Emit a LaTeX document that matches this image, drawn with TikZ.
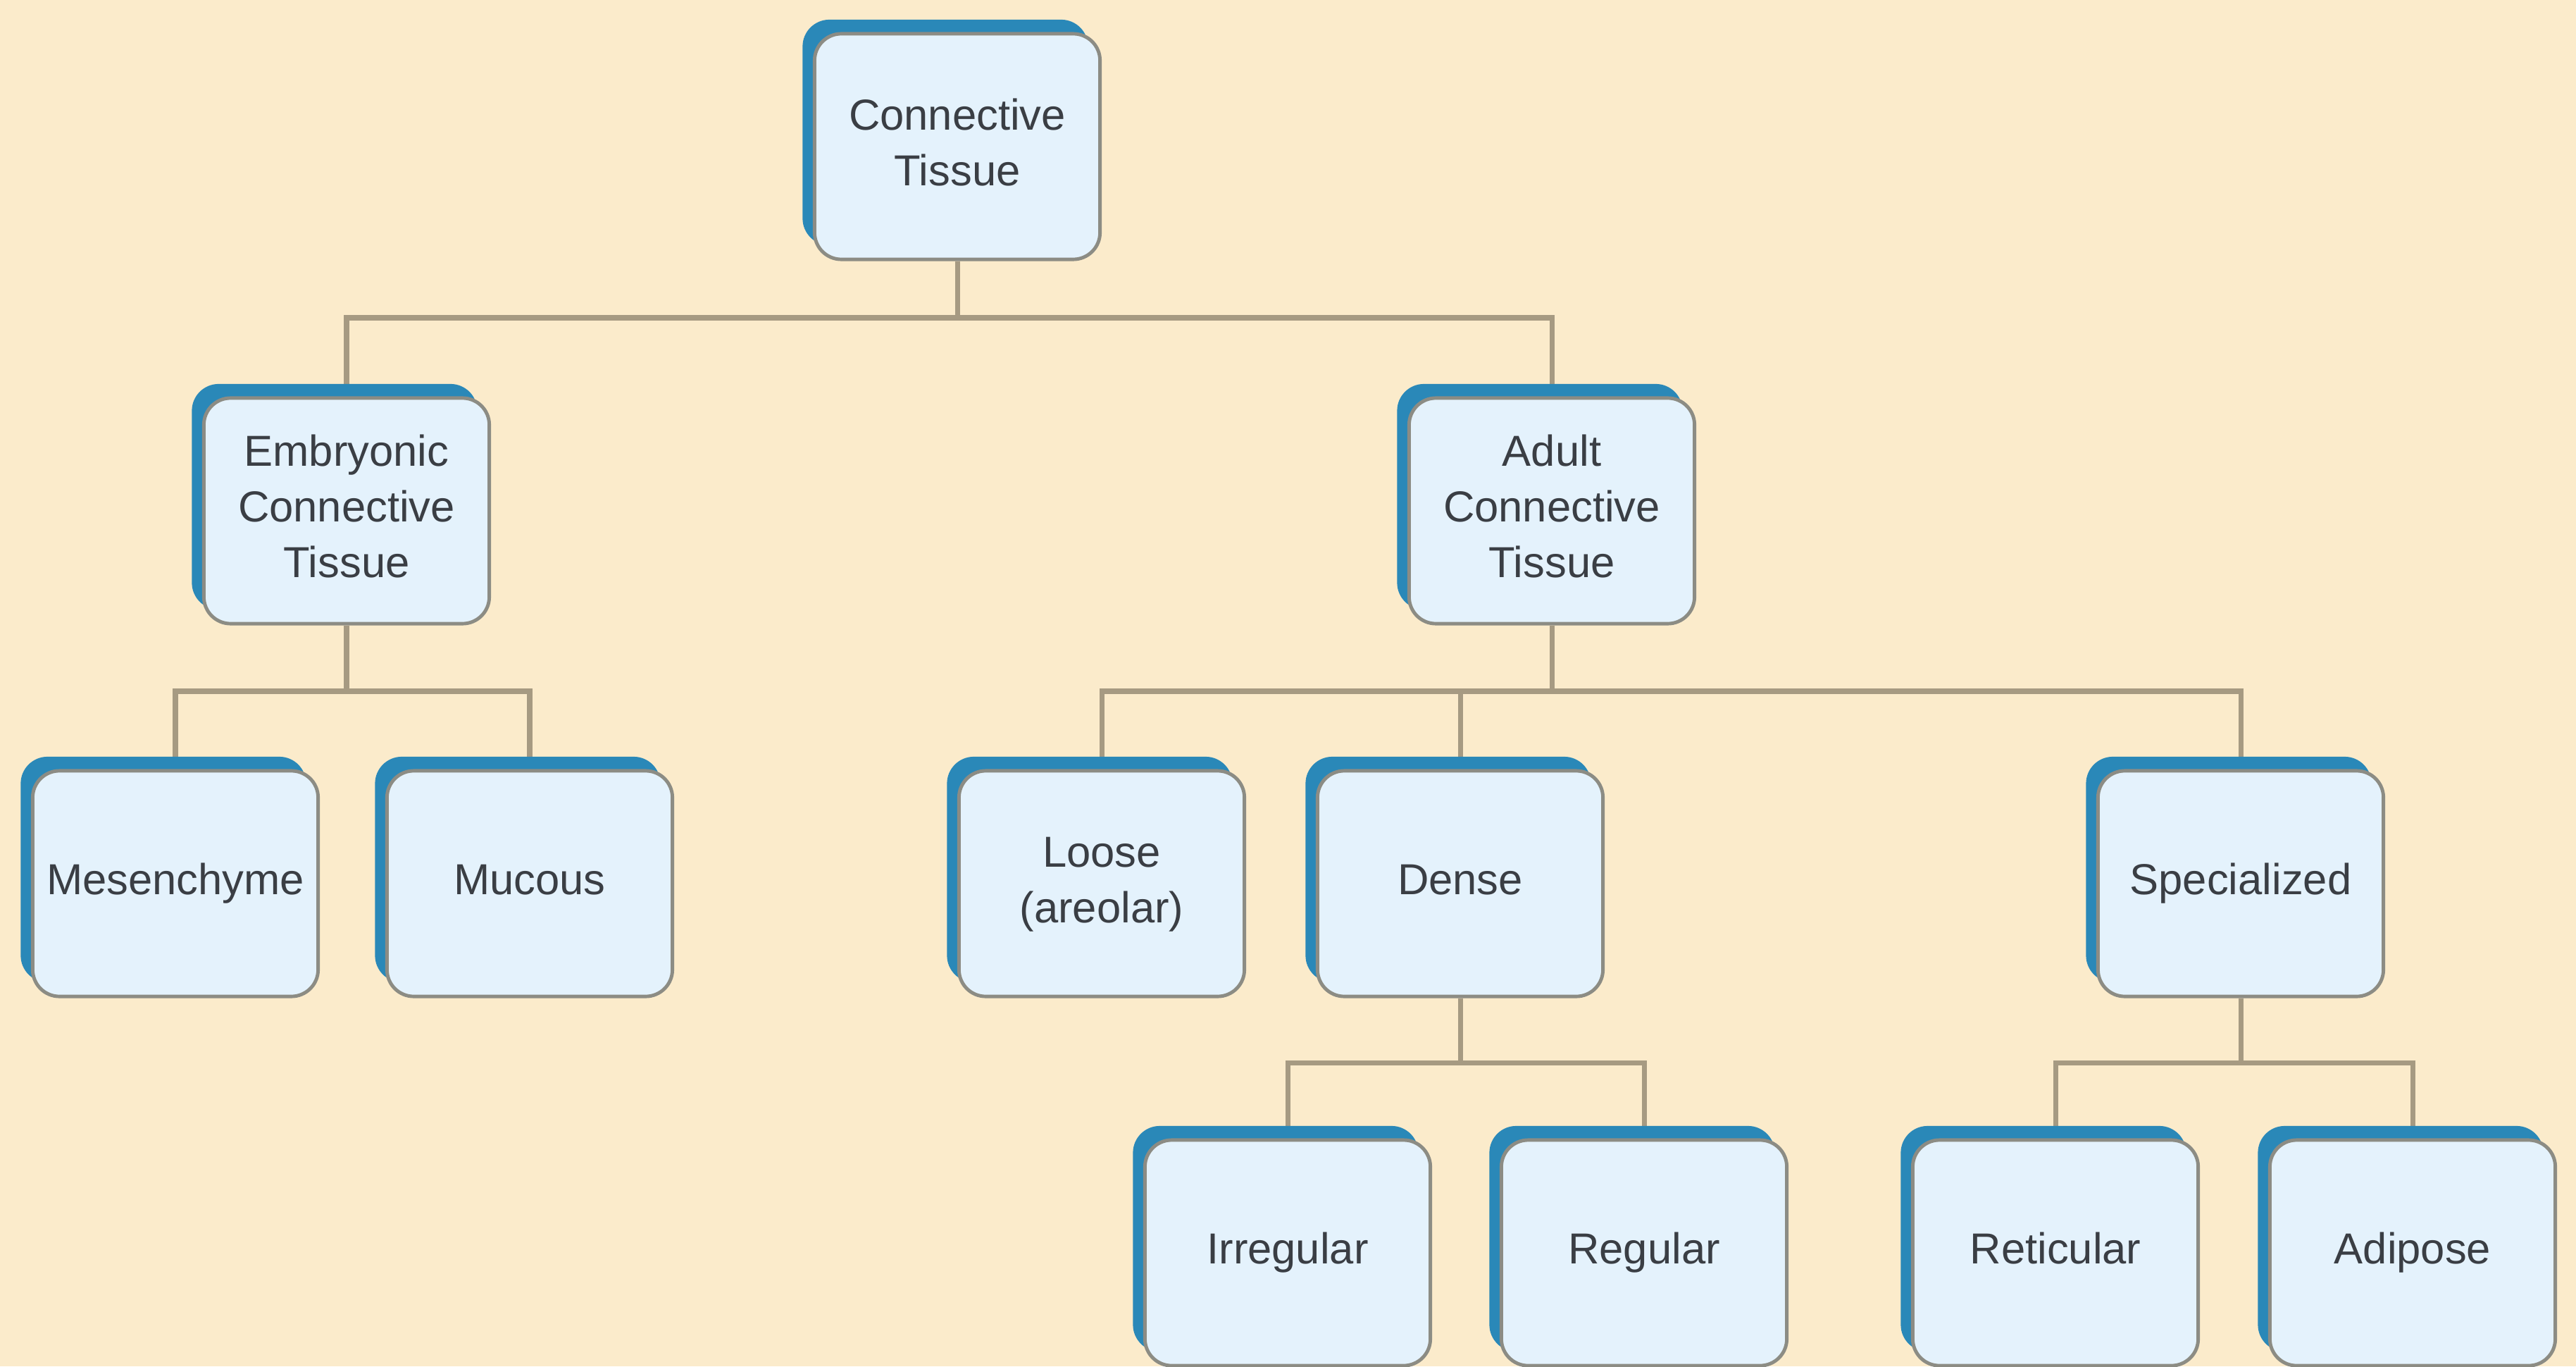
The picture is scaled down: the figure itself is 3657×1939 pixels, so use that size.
\documentclass[tikz,border=0pt]{standalone}
\usepackage{fontspec}
\setmainfont{Liberation Sans}
\usetikzlibrary{shadows,backgrounds}
\definecolor{bgC}{HTML}{FBEBCB}
\definecolor{blueC}{HTML}{2A88B8}
\definecolor{fillC}{HTML}{E4F2FC}
\definecolor{edgeC}{HTML}{8C8C84}
\definecolor{lineC}{HTML}{A69A82}
\definecolor{textC}{HTML}{3A3E44}
\tikzset{
  box/.style={rectangle, rounded corners=0.38cm, minimum width=4.05cm, minimum height=3.2cm,
    fill=fillC, draw=edgeC, line width=1.4pt, align=center, text=textC,
    font=\fontsize{17.5}{22.5}\selectfont,
    general shadow={fill=blueC, shadow xshift=-0.17cm, shadow yshift=0.2cm}},
  conn/.style={draw=lineC, line width=2pt}
}
\begin{document}
\begin{tikzpicture}[x=0.01cm,y=-0.01cm]
\useasboundingbox (0,0) rectangle (3657,1939);
% nodes
\node[box] (root) at (1359,208) {\strut Connective\\\strut Tissue};
\node[box] (emb) at (492,725) {\strut Embryonic\\\strut Connective\\\strut Tissue};
\node[box] (adult) at (2203,725) {\strut Adult\\\strut Connective\\\strut Tissue};
\node[box] (mes) at (249,1254) {\strut Mesenchyme};
\node[box] (muc) at (752,1254) {\strut Mucous};
\node[box] (loose) at (1564,1254) {\strut Loose\\\strut (areolar)};
\node[box] (dense) at (2073,1254) {\strut Dense};
\node[box] (spec) at (3181,1254) {\strut Specialized};
\node[box] (irr) at (1828,1778) {\strut Irregular};
\node[box] (reg) at (2334,1778) {\strut Regular};
\node[box] (ret) at (2918,1778) {\strut Reticular};
\node[box] (adi) at (3425,1778) {\strut Adipose};
\coordinate (b1) at (1359,451);
\coordinate (b2) at (492,981);
\coordinate (b3) at (2203,981);
\coordinate (b4) at (2073,1508);
\coordinate (b5) at (3181,1508);
\begin{scope}[on background layer]
\fill[bgC] (0,0) rectangle (3657,1939);
\draw[conn] (root.south) -- (b1);
\draw[conn] (emb.north) |- (b1) -| (adult.north);
\draw[conn] (emb.south) -- (b2);
\draw[conn] (mes.north) |- (b2) -| (muc.north);
\draw[conn] (adult.south) -- (b3);
\draw[conn] (loose.north) |- (b3) -| (spec.north);
\draw[conn] (dense.north) -- (dense.north |- b3);
\draw[conn] (dense.south) -- (b4);
\draw[conn] (irr.north) |- (b4) -| (reg.north);
\draw[conn] (spec.south) -- (b5);
\draw[conn] (ret.north) |- (b5) -| (adi.north);
\end{scope}
\end{tikzpicture}
\end{document}
